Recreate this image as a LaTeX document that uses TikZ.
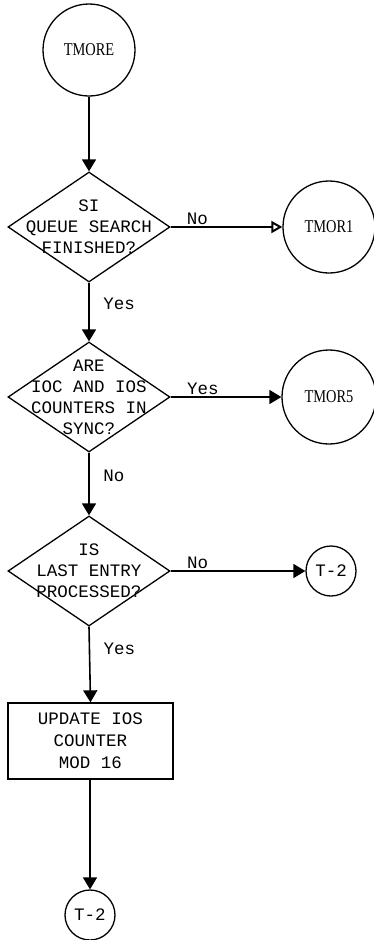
\documentclass[tikz,border=0pt]{standalone}
\usepackage{fontspec}
\setmainfont{Liberation Serif}
\setmonofont{Liberation Mono}
\newfontfamily\circfont[FakeStretch=0.8]{Liberation Serif}
\usetikzlibrary{shapes.geometric,arrows.meta}
\begin{document}
\begin{tikzpicture}[x=1pt,y=-1pt,
  term/.style={circle,draw,line width=1.3pt,inner sep=0pt,font=\circfont\fontsize{18}{20}\selectfont},
  conn/.style={circle,draw,line width=1.3pt,inner sep=0pt,minimum size=50pt,font=\ttfamily\fontsize{17.5}{19}\selectfont},
  decide/.style={diamond,draw,line width=1.3pt,inner sep=0pt,minimum width=162pt,minimum height=110pt},
  dtext/.style={align=center,font=\ttfamily\fontsize{17.5}{21}\selectfont},
  procbox/.style={rectangle,draw,line width=1.3pt,minimum width=165pt,minimum height=76pt,align=center,font=\ttfamily\fontsize{17.5}{22}\selectfont},
  flow/.style={line width=1.6pt,-{Triangle[length=12pt,width=14pt]}},
  flowopen/.style={line width=1.6pt,-{Triangle[open,length=11pt,width=12pt,line width=2pt]}},
  lab/.style={font=\ttfamily\fontsize{17.5}{19}\selectfont,inner sep=1.5pt}
]
\useasboundingbox (0,0) rectangle (373,940);
\node[term,minimum size=92pt] (tmore) at (89,50) {TMORE};
\node[decide,label={[dtext]center:{SI\\QUEUE SEARCH\\FINISHED?}}] (d1) at (89,227) {};
\node[decide,label={[dtext]center:{ARE\\IOC AND IOS\\COUNTERS IN\\SYNC?}}] (d2) at (89,397) {};
\node[decide,label={[dtext]center:{IS\\LAST ENTRY\\PROCESSED?}}] (d3) at (89,571) {};
\node[procbox] (upd) at (90.5,741) {UPDATE IOS\\COUNTER\\MOD 16};
\node[term,minimum size=92pt] (tmor1) at (329,227) {TMOR1};
\node[term,minimum size=94pt] (tmor5) at (329,397) {TMOR5};
\node[conn] (t2a) at (331,571) {T-2};
\node[conn] (t2b) at (90,915) {T-2};

\draw[flow] (tmore) -- (d1.north);
\draw[flowopen] (d1.east) -- node[lab,pos=0.24,above] {No} (tmor1.west);
\draw[flow] (d1.south) -- node[lab,pos=0.36,right=12pt] {Yes} (d2.north);
\draw[flow] (d2.east) -- node[lab,pos=0.29,above] {Yes} (tmor5.west);
\draw[flow] (d2.south) -- node[lab,pos=0.37,right=12pt] {No} (d3.north);
\draw[flow] (d3.east) -- node[lab,pos=0.2,above] {No} (t2a.west);
\draw[flow] (d3.south) -- node[lab,pos=0.29,right=12pt] {Yes} (upd.north);
\draw[flow] (upd.south -| t2b) -- (t2b.north);
\end{tikzpicture}
\end{document}
